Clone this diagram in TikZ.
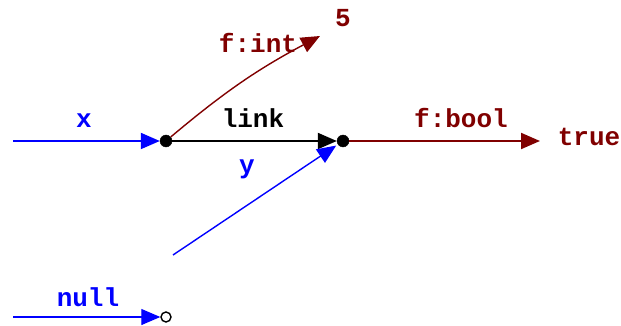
\documentclass[tikz,border=0pt]{standalone}
\usepackage{fontspec}
\setmonofont{Liberation Mono}
\usetikzlibrary{arrows.meta}
\definecolor{ptrblue}{RGB}{0,0,255}
\definecolor{fieldred}{RGB}{128,0,0}
\tikzset{
  lbl/.style={font=\ttfamily\bfseries\fontsize{26}{26}\selectfont, anchor=base, inner sep=0pt},
  dot/.style={circle, fill=black, draw=black, minimum size=12pt, inner sep=0pt},
  opendot/.style={circle, fill=white, draw=black, line width=1.4pt, minimum size=10pt, inner sep=0pt},
  tip/.style={-{Triangle[length=19pt,width=16pt]}},
  thick1/.style={line width=2pt},
}
\begin{document}
\begin{tikzpicture}[x=1pt,y=-1pt]
\useasboundingbox (0,0) rectangle (621,326);
% nodes
\node[dot] (A) at (166,141) {};
\node[dot] (B) at (343,141) {};
\node[opendot] (N) at (166,317) {};
\coordinate (xs) at (13,141);
\coordinate (ns) at (13,317);
\coordinate (ys) at (173,255);
\coordinate (fi) at (320,36);
\coordinate (fb) at (540,141);
% connectors
\draw[tip, thick1, ptrblue] (xs) -- (A);
\draw[tip, line width=1.2pt, ptrblue] (ns) -- (N);
\draw[tip, thick1, black] (A) -- (B);
\draw[tip, line width=1.4pt, ptrblue, shorten >=2pt] (ys) -- (B);
\draw[tip, line width=1.4pt, fieldred] (A) to[bend left=6] (fi);
\draw[tip, thick1, fieldred] (B) -- (fb);
% labels
\node[lbl, ptrblue] (lx) at (84,128) {x};
\node[lbl, ptrblue] (ly) at (247,173) {y};
\node[lbl, ptrblue] (lnull) at (88,306) {null};
\node[lbl, black] (llink) at (253,128) {link};
\node[lbl, fieldred] (lfint) at (258,53) {f:int};
\node[lbl, fieldred] (lfbool) at (461,128) {f:bool};
\node[lbl, fieldred] (l5) at (343,27) {5};
\node[lbl, fieldred] (ltrue) at (589,146) {true};
\end{tikzpicture}
\end{document}
